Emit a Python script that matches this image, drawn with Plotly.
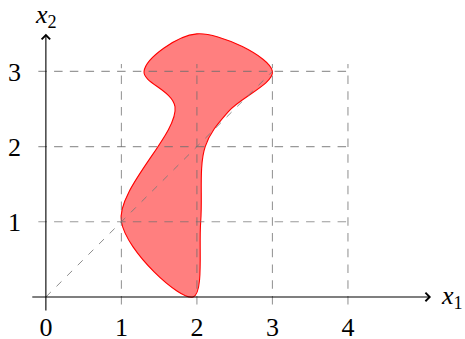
import plotly.graph_objects as go

# ---- data ----
tick_x = [0, 1, 2, 3, 4]
tick_y = [1, 2, 3]
grid_x = [1, 2, 3, 4]
grid_y = [1, 2, 3]
grid_lo = -0.1
grid_x_hi = 4.02
grid_y_hi = 3.1
diag_x = [0, 3]
diag_y = [0, 3]
# boundary points of the region (smooth closed curve)
blob_x = [1.95, 2.05, 2.11, 2.42, 3.0, 2.0, 1.3, 1.71, 1.0, 1.95]
blob_y = [0.0, 1.0, 2.0, 2.47, 3.0, 3.5, 3.0, 2.53, 1.0, 0.0]
axis_x_span = [-0.2, 5.1]
axis_y_span = [-0.2, 3.5]

FONT = "'Liberation Serif', 'Times New Roman', 'DejaVu Serif', serif"
FS = 26
GRID_COL = "rgba(110,110,110,0.7)"

fig = go.Figure()

# filled region
fig.add_trace(go.Scatter(
    x=blob_x, y=blob_y, mode="lines", fill="toself",
    fillcolor="rgba(255,0,0,0.5)",
    line=dict(color="#ff0000", width=1.1, shape="spline", smoothing=1.0),
    hoverinfo="skip", showlegend=False))

# grid (vertical)
gx, gy = [], []
for v in grid_x:
    gx += [v, v, None]
    gy += [grid_lo, grid_y_hi, None]
fig.add_trace(go.Scatter(x=gx, y=gy, mode="lines",
                         line=dict(color=GRID_COL, width=1.1, dash="8.5px,7.25px"),
                         hoverinfo="skip", showlegend=False))
# grid (horizontal)
hx, hy = [], []
for v in grid_y:
    hx += [grid_lo, grid_x_hi, None]
    hy += [v, v, None]
fig.add_trace(go.Scatter(x=hx, y=hy, mode="lines",
                         line=dict(color=GRID_COL, width=1.1, dash="8.5px,7.25px"),
                         hoverinfo="skip", showlegend=False))
# diagonal
fig.add_trace(go.Scatter(x=diag_x, y=diag_y, mode="lines",
                         line=dict(color="rgba(120,120,120,0.85)", width=1.0, dash="7px,8px"),
                         hoverinfo="skip", showlegend=False))

# axes with arrows
fig.add_annotation(x=axis_x_span[1], y=0, ax=axis_x_span[0], ay=0,
                   xref="x", yref="y", axref="x", ayref="y", text="",
                   showarrow=True, arrowhead=4, arrowsize=1.5, arrowwidth=1.1,
                   arrowcolor="black")
fig.add_annotation(x=0, y=axis_y_span[1], ax=0, ay=axis_y_span[0],
                   xref="x", yref="y", axref="x", ayref="y", text="",
                   showarrow=True, arrowhead=4, arrowsize=1.5, arrowwidth=1.1,
                   arrowcolor="black")
# axis labels
fig.add_annotation(x=5.2, y=0, xref="x", yref="y", xanchor="left", yanchor="middle",
                   text="<i>x</i><sub>1</sub>", showarrow=False,
                   font=dict(family=FONT, size=FS, color="black"))
fig.add_annotation(x=0, y=3.74, xref="x", yref="y", xanchor="center", yanchor="middle",
                   text="<i>x</i><sub>2</sub>", showarrow=False,
                   font=dict(family=FONT, size=FS, color="black"))

fig.update_xaxes(range=[-0.25, 5.55], tickvals=tick_x, ticktext=[str(v) for v in tick_x],
                 showgrid=False, zeroline=False, showline=False, ticks="",
                 automargin=False, ticklabelstandoff=-3,
                 tickfont=dict(family=FONT, size=FS, color="black"))
fig.update_yaxes(range=[-0.2, 3.95], tickvals=tick_y, ticktext=[str(v) for v in tick_y],
                 showgrid=False, zeroline=False, showline=False, ticks="",
                 automargin=False, ticklabelstandoff=5,
                 tickfont=dict(family=FONT, size=FS, color="black"))

fig.update_layout(width=465, height=339, margin=dict(l=27, r=0, t=0, b=27),
                  plot_bgcolor="rgba(0,0,0,0)", paper_bgcolor="white", showlegend=False)

fig.write_html("out.html", config={"displayModeBar": False},
               post_script="document.body.style.margin='0px';")
